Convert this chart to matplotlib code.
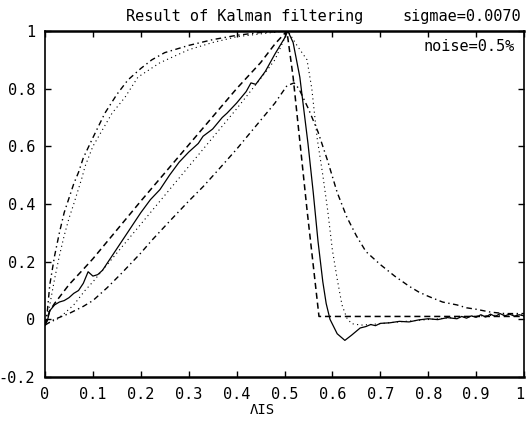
import matplotlib
matplotlib.use("Agg")
import matplotlib.pyplot as plt

# ── data ──────────────────────────────────────────────────────────────────────
dash_x = [0, 0.01, 0.02, 0.05, 0.0835, 0.1, 0.2, 0.3, 0.4, 0.45, 0.48, 0.505, 0.518, 0.547, 0.572,
          0.6, 0.7, 0.8, 0.9, 1.0]
dash_y = [-0.02, 0.03, 0.055, 0.12, 0.18, 0.21, 0.41, 0.605, 0.80, 0.89, 0.955, 1.0, 0.84, 0.38, 0.01,
          0.01, 0.01, 0.01, 0.01, 0.01]

sol_x = [0, 0.005, 0.01, 0.02, 0.03, 0.04, 0.05, 0.06, 0.07, 0.08, 0.09, 0.10, 0.11, 0.12, 0.14, 0.16,
         0.18, 0.20, 0.22, 0.24, 0.26, 0.28, 0.30, 0.32, 0.33, 0.35, 0.37, 0.38, 0.40, 0.42, 0.43, 0.44,
         0.46, 0.48, 0.50, 0.507, 0.518, 0.532, 0.549, 0.56, 0.57, 0.58, 0.587, 0.595, 0.61, 0.626, 0.64,
         0.658, 0.67, 0.68, 0.69, 0.70, 0.72, 0.74, 0.76, 0.78, 0.80, 0.82, 0.84, 0.86, 0.87, 0.88, 0.89,
         0.90, 0.91, 0.92, 0.93, 0.94, 0.95, 0.96, 0.97, 0.98, 0.99, 1.0]
sol_y = [-0.02, -0.005, 0.03, 0.05, 0.06, 0.065, 0.075, 0.09, 0.10, 0.125, 0.165, 0.15, 0.155, 0.17, 0.22,
         0.27, 0.32, 0.37, 0.415, 0.45, 0.50, 0.545, 0.58, 0.61, 0.635, 0.66, 0.70, 0.715, 0.75, 0.79, 0.82,
         0.815, 0.86, 0.92, 0.975, 1.0, 0.96, 0.84, 0.61, 0.44, 0.27, 0.13, 0.055, 0.0, -0.05, -0.073, -0.055,
         -0.03, -0.025, -0.018, -0.022, -0.014, -0.012, -0.007, -0.009, -0.002, 0.002, -0.001, 0.006, 0.002,
         0.01, 0.004, 0.012, 0.007, 0.016, 0.008, 0.018, 0.01, 0.02, 0.012, 0.018, 0.011, 0.016, 0.012]

dot_x = [0, 0.01, 0.025, 0.04, 0.06, 0.0835, 0.1, 0.13, 0.16, 0.2, 0.25, 0.3, 0.35, 0.4, 0.459, 0.48,
         0.507, 0.526, 0.547, 0.557, 0.568, 0.58, 0.59, 0.60, 0.61, 0.62, 0.63, 0.64, 0.66, 0.68, 0.70,
         0.73, 0.76, 0.79, 0.82, 0.85, 0.88, 0.91, 0.94, 0.97, 1.0]
dot_y = [-0.02, -0.01, 0.0, 0.02, 0.05, 0.10, 0.13, 0.19, 0.25, 0.33, 0.43, 0.53, 0.63, 0.73, 0.854, 0.90,
         1.0, 0.95, 0.90, 0.80, 0.63, 0.50, 0.38, 0.24, 0.14, 0.05, 0.005, -0.015, -0.02, -0.018, -0.015,
         -0.01, -0.006, -0.002, 0.002, 0.006, 0.009, 0.012, 0.014, 0.016, 0.015]

dd_x = [0, 0.01, 0.02, 0.05, 0.08, 0.10, 0.13, 0.16, 0.2, 0.223, 0.26, 0.3, 0.33, 0.361, 0.4, 0.45, 0.48,
        0.505, 0.52, 0.53, 0.55, 0.57, 0.59, 0.61, 0.63, 0.65, 0.67, 0.70, 0.73, 0.76, 0.78, 0.80, 0.83,
        0.86, 0.88, 0.90, 0.93, 0.96, 1.0]
dd_y = [-0.02, -0.01, 0.0, 0.02, 0.045, 0.065, 0.11, 0.16, 0.23, 0.274, 0.34, 0.41, 0.46, 0.517, 0.59,
        0.69, 0.75, 0.81, 0.82, 0.80, 0.73, 0.65, 0.55, 0.44, 0.355, 0.29, 0.235, 0.19, 0.15, 0.115, 0.095,
        0.08, 0.06, 0.05, 0.04, 0.035, 0.025, 0.02, 0.02]

up_dd_x = [0, 0.005, 0.01, 0.02, 0.03, 0.04, 0.05, 0.06, 0.07, 0.08, 0.1, 0.125, 0.15, 0.173, 0.2, 0.223,
           0.25, 0.3, 0.35, 0.4, 0.45, 0.5, 0.58]
up_dd_y = [-0.02, 0.03, 0.12, 0.22, 0.30, 0.37, 0.42, 0.47, 0.51, 0.56, 0.63, 0.715, 0.78, 0.83, 0.87,
           0.90, 0.925, 0.95, 0.97, 0.985, 0.995, 1.0, 1.0]

up_dot_x = [0, 0.01, 0.02, 0.03, 0.04, 0.05, 0.06, 0.077, 0.0835, 0.1, 0.14, 0.167, 0.194, 0.24, 0.3,
            0.35, 0.4, 0.45, 0.5, 0.59]
up_dot_y = [-0.02, 0.05, 0.14, 0.22, 0.29, 0.35, 0.40, 0.49, 0.53, 0.60, 0.715, 0.77, 0.84, 0.89, 0.935,
            0.96, 0.98, 0.99, 1.0, 1.0]

xticks = [0, 0.1, 0.2, 0.3, 0.4, 0.5, 0.6, 0.7, 0.8, 0.9, 1]
xtick_labels = ["0", "0.1", "0.2", "0.3", "0.4", "0.5", "0.6", "0.7", "0.8", "0.9", "1"]
yticks = [-0.2, 0, 0.2, 0.4, 0.6, 0.8, 1]
ytick_labels = ["-0.2", "0", "0.2", "0.4", "0.6", "0.8", "1"]

FONT = "DejaVu Sans Mono"

fig = plt.figure(figsize=(5.26, 4.25), dpi=100, facecolor="white")
ax = fig.add_axes([45/526, 1-377/425, 479/526, 346/425])

ax.plot(dash_x, dash_y, color="black", lw=1.1, dashes=(4, 2.5))
ax.plot(sol_x, sol_y, color="black", lw=0.9)
ax.plot(dot_x, dot_y, color="black", lw=0.8, dashes=(1, 3))
ax.plot(dd_x, dd_y, color="black", lw=1.0, dashes=(4, 2.5, 1, 2.5))
ax.plot(up_dd_x, up_dd_y, color="black", lw=1.0, dashes=(4, 2.5, 1, 2.5))
ax.plot(up_dot_x, up_dot_y, color="black", lw=0.8, dashes=(1, 3))

ax.set_xlim(0, 1); ax.set_ylim(-0.2, 1)
ax.set_xticks(xticks); ax.set_xticklabels(xtick_labels, family=FONT, fontsize=11)
ax.get_xticklabels()[-1].set_ha("right")
ax.set_yticks(yticks); ax.set_yticklabels(ytick_labels, family=FONT, fontsize=11)
ax.tick_params(direction="in", length=4, width=1, top=True, right=True, pad=7)
for s in ax.spines.values():
    s.set_linewidth(1.2)
ax.spines["top"].set_linewidth(1.8); ax.spines["bottom"].set_linewidth(1.8)

fig.text(245/526, 1-16/425, "Result of Kalman filtering", ha="center", va="center", family=FONT, fontsize=11)
fig.text(521/526, 1-16/425, "sigmae=0.0070", ha="right", va="center", family=FONT, fontsize=11)
ax.text(0.981, 0.954, "noise=0.5%", transform=ax.transAxes, ha="right", va="center", family=FONT, fontsize=11)
fig.text(262/526, 1-410/425, "ΛIS", ha="center", va="center", family=FONT, fontsize=10)

fig.savefig("out.png", dpi=100, facecolor="white")
